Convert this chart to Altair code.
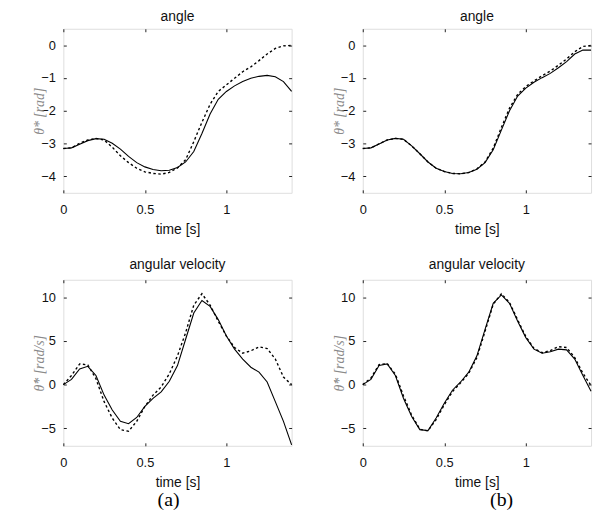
import altair as alt
import pandas as pd

# time grid [s]
t = [0.0, 0.05, 0.1, 0.15, 0.2, 0.25, 0.3, 0.35, 0.4, 0.45, 0.5, 0.55, 0.6, 0.65,
     0.7, 0.75, 0.8, 0.85, 0.9, 0.95, 1.0, 1.05, 1.1, 1.15, 1.2, 1.25, 1.3, 1.35, 1.4]

# (a) angle
a_ang_solid = [-3.15, -3.13, -3.02, -2.91, -2.85, -2.87, -2.99, -3.17, -3.39, -3.58, -3.71,
               -3.79, -3.83, -3.81, -3.73, -3.56, -3.24, -2.69, -2.10, -1.65, -1.41, -1.24,
               -1.11, -1.01, -0.95, -0.92, -0.96, -1.11, -1.41]
a_ang_dash = [-3.15, -3.13, -2.99, -2.89, -2.84, -2.89, -3.11, -3.37, -3.58, -3.75, -3.86,
              -3.91, -3.93, -3.88, -3.74, -3.49, -2.94, -2.35, -1.80, -1.41, -1.21, -1.01,
              -0.81, -0.66, -0.47, -0.27, -0.10, -0.02, -0.01]
# (a) angular velocity
a_vel_solid = [0.0, 0.6, 1.8, 2.1, 1.05, -1.2, -2.9, -4.2, -4.47, -3.76, -2.5, -1.58, -0.83,
               0.38, 2.18, 5.19, 8.2, 9.62, 8.95, 7.44, 5.56, 4.06, 2.93, 1.99, 1.43, 0.3,
               -1.95, -4.2, -6.9]
a_vel_dash = [0.0, 1.05, 2.37, 2.26, 0.68, -1.95, -3.83, -5.15, -5.34, -4.2, -2.5, -1.2, -0.26,
              1.24, 3.3, 5.94, 9.1, 10.4, 9.1, 7.26, 5.56, 4.25, 3.6, 3.87, 4.32, 4.13, 2.93,
              0.86, 0.0]
# (b) angle
b_ang_solid = [-3.15, -3.13, -3.01, -2.89, -2.84, -2.87, -3.07, -3.31, -3.56, -3.75, -3.85,
               -3.91, -3.92, -3.88, -3.78, -3.58, -3.19, -2.59, -2.00, -1.55, -1.31, -1.13,
               -0.99, -0.86, -0.69, -0.50, -0.27, -0.15, -0.15]
b_ang_dash = [-3.15, -3.13, -3.01, -2.89, -2.84, -2.87, -3.07, -3.31, -3.56, -3.75, -3.85,
              -3.91, -3.92, -3.88, -3.77, -3.56, -3.14, -2.51, -1.92, -1.50, -1.26, -1.09,
              -0.93, -0.79, -0.61, -0.42, -0.20, -0.04, -0.01]
# (b) angular velocity
b_vel_solid = [0.0, 0.6, 2.18, 2.37, 1.05, -1.58, -3.65, -5.15, -5.26, -3.83, -2.14, -0.64,
               0.3, 1.43, 3.3, 6.32, 9.3, 10.26, 9.3, 7.26, 5.38, 4.06, 3.6, 3.76, 4.06, 3.98,
               2.93, 1.05, -0.75]
b_vel_dash = [0.0, 0.75, 2.3, 2.4, 1.2, -1.3, -3.5, -5.1, -5.3, -4.0, -2.3, -0.8, 0.2, 1.3,
              3.1, 6.1, 9.2, 10.4, 9.4, 7.4, 5.5, 4.15, 3.65, 3.9, 4.35, 4.25, 3.1, 1.3, -0.1]

x_ticks = [0, 0.5, 1]
ang_ticks = [-4, -3, -2, -1, 0]
vel_ticks = [-5, 0, 5, 10]

FONT = "Liberation Sans"
SERIF = "Liberation Serif"
XDOM = [0, 1.4]
W = 231


def panel(solid, dash, title, ydom, yticks, ytitle, h, toff):
    df = pd.DataFrame({"t": t, "solid": solid, "dash": dash})
    xs = alt.Scale(domain=XDOM, nice=False, zero=False)
    ys = alt.Scale(domain=ydom, nice=False, zero=False)
    common = dict(domain=False, grid=False, tickSize=3, offset=-3, tickColor="#222",
                  labelFlush=False, labelFont=FONT, labelFontSize=13, labelColor="#111")
    s = alt.Chart(df).mark_line(color="black", strokeWidth=1.1).encode(
        x=alt.X("t:Q", scale=xs, axis=alt.Axis(values=x_ticks,
                                               labelExpr="toString(datum.value)",
                                               title="time [s]", labelPadding=11,
                                               titlePadding=6, titleFont=FONT,
                                               titleFontSize=14, titleFontWeight="normal",
                                               titleColor="#111", **common)),
        y=alt.Y("solid:Q", scale=ys, axis=alt.Axis(values=yticks, format="d",
                                                   title=ytitle, labelPadding=8,
                                                   titlePadding=-6, titleFont=SERIF,
                                                   titleFontStyle="italic",
                                                   titleFontWeight="normal",
                                                   titleColor="#8a8a8a",
                                                   titleFontSize=14, **common)),
    )
    d = alt.Chart(df).mark_line(color="black", strokeWidth=1.4, strokeDash=[2.5, 2.5]).encode(
        x=alt.X("t:Q", scale=xs, axis=alt.Axis(values=x_ticks, orient="top", labels=False,
                                               title=None, **common)),
        y=alt.Y("dash:Q", scale=ys, axis=alt.Axis(values=yticks, orient="right", labels=False,
                                                  title=None, **common)),
    )
    return alt.layer(s, d).resolve_axis(x="independent", y="independent").properties(
        width=W, height=h,
        title=alt.TitleParams(title, font=FONT, fontSize=14, fontWeight="normal", offset=toff,
                              color="#111"),
    )


def column(ang_s, ang_d, vel_s, vel_d, label, dx):
    return alt.vconcat(
        panel(ang_s, ang_d, "angle", [-4.5, 0.5], ang_ticks, "θ* [rad]", 166, 4),
        panel(vel_s, vel_d, "angular velocity", [-7, 12], vel_ticks, "θ̇* [rad/s]", 168, 7),
        spacing=21,
        title=alt.TitleParams(label, orient="bottom", anchor="middle", font=SERIF,
                              fontSize=20, fontWeight="normal", offset=0, color="black",
                              dx=dx),
    )


chart = alt.hconcat(
    column(a_ang_solid, a_ang_dash, a_vel_solid, a_vel_dash, "(a)", 5),
    column(b_ang_solid, b_ang_dash, b_vel_solid, b_vel_dash, "(b)", 39),
    spacing=36,
).properties(
    padding={"left": 24, "top": -1, "right": 0, "bottom": 0}
).configure_view(stroke="#222", strokeWidth=1).configure(background="white")

chart.save("out.html", embed_options={"renderer": "svg", "actions": False})
